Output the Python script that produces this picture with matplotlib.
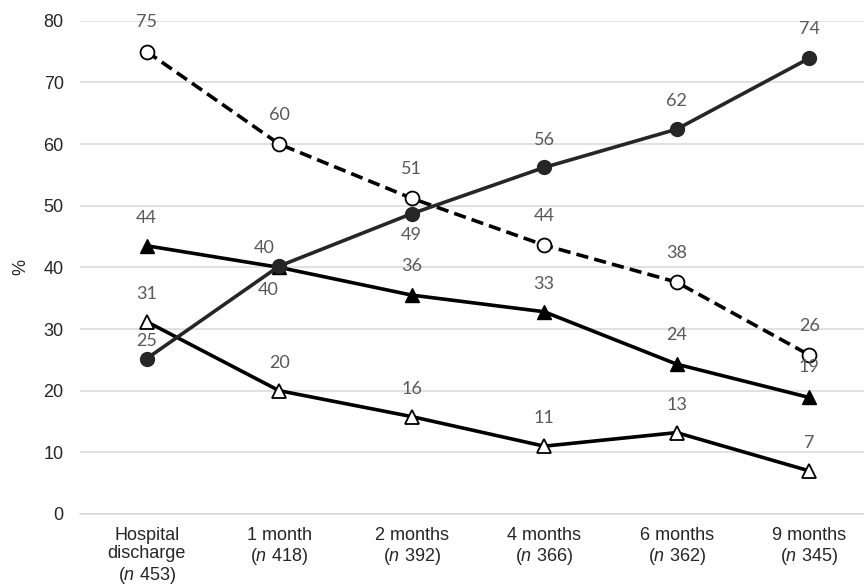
import numpy as np
import matplotlib
matplotlib.use("Agg")
import matplotlib.pyplot as plt

plt.rcParams['font.family'] = ['Liberation Sans', 'DejaVu Sans']
plt.rcParams['mathtext.fontset'] = 'custom'
plt.rcParams['mathtext.it'] = 'Liberation Sans:italic'
plt.rcParams['mathtext.rm'] = 'Liberation Sans'

# category labels on the x axis
categories = ['Hospital\ndischarge\n($\\it{n}$ 453)', '1 month\n($\\it{n}$ 418)',
              '2 months\n($\\it{n}$ 392)', '4 months\n($\\it{n}$ 366)',
              '6 months\n($\\it{n}$ 362)', '9 months\n($\\it{n}$ 345)']

# the four series
filled_circle = [25.2, 40.2, 48.7, 56.2, 62.4, 73.9]
hollow_circle = [75.0, 60.0, 51.2, 43.6, 37.6, 25.8]
filled_triangle = [43.5, 40.0, 35.5, 32.8, 24.3, 18.9]
hollow_triangle = [31.2, 20.0, 15.8, 11.0, 13.2, 7.0]

# printed labels
filled_circle_lab = [25, 40, 49, 56, 62, 74]
hollow_circle_lab = [75, 60, 51, 44, 38, 26]
filled_triangle_lab = [44, 40, 36, 33, 24, 19]
hollow_triangle_lab = [31, 20, 16, 11, 13, 7]

label_color = '#595959'
label_font = 'Lato'
text_color = '#262626'


def add_labels(ax, x, vals, labs, offsets):
    for xi, v, lab, off in zip(x, vals, labs, offsets):
        dx, dy = off
        ax.annotate(str(lab), (xi, v), xytext=(dx, dy), textcoords='offset points',
                    ha='center', va='center', color=label_color,
                    fontsize=13, family=label_font, zorder=10)


fig = plt.figure(figsize=(8.64, 5.88), dpi=100)
ax = fig.add_axes([80.4 / 864, 74 / 588, 1 - 80.4 / 864, 493.3 / 588])

x = np.arange(len(categories))

ax.plot(x, hollow_triangle, color='black', lw=2.6, marker='^', ms=10,
        mfc='white', mec='black', mew=1.3, zorder=3)
ax.plot(x, filled_triangle, color='black', lw=2.6, marker='^', ms=10,
        mfc='black', mec='black', zorder=4)
ax.plot(x, hollow_circle, color='black', lw=2.6, ls=(0, (3.4, 1.7)), marker='o', ms=10,
        mfc='white', mec='black', mew=1.3, zorder=5)
ax.plot(x, filled_circle, color=text_color, lw=2.6, marker='o', ms=10,
        mfc=text_color, mec=text_color, zorder=6)

add_labels(ax, x, hollow_triangle, hollow_triangle_lab, [(0, 20)] * 6)
add_labels(ax, x, filled_triangle, filled_triangle_lab,
           [(0, 20), (-11, 14), (0, 21), (0, 20), (0, 21), (0, 22)])
add_labels(ax, x, hollow_circle, hollow_circle_lab, [(0, 21)] * 6)
add_labels(ax, x, filled_circle, filled_circle_lab,
           [(0, 13), (-8, -17), (0, -15), (0, 20), (0, 20), (0, 21)])

ax.set_xlim(-0.5, 5.414)
ax.set_ylim(0, 80)
ax.set_yticks(np.arange(0, 81, 10))
ax.set_xticks(x)
ax.set_xticklabels(categories, fontsize=13, color=text_color, linespacing=1.15)
ax.tick_params(axis='y', labelsize=13, labelcolor=text_color, length=0, pad=12)
ax.tick_params(axis='x', length=0, pad=9)
ax.set_ylabel('%', fontsize=13, color=text_color, labelpad=10)

ax.grid(axis='y', color='#d9d9d9', lw=1.1, zorder=0)
ax.set_axisbelow(True)
for s in ['top', 'right', 'left']:
    ax.spines[s].set_visible(False)
ax.spines['bottom'].set_color('#d9d9d9')
ax.spines['bottom'].set_linewidth(1.1)

fig.savefig('out.png', dpi=100)
